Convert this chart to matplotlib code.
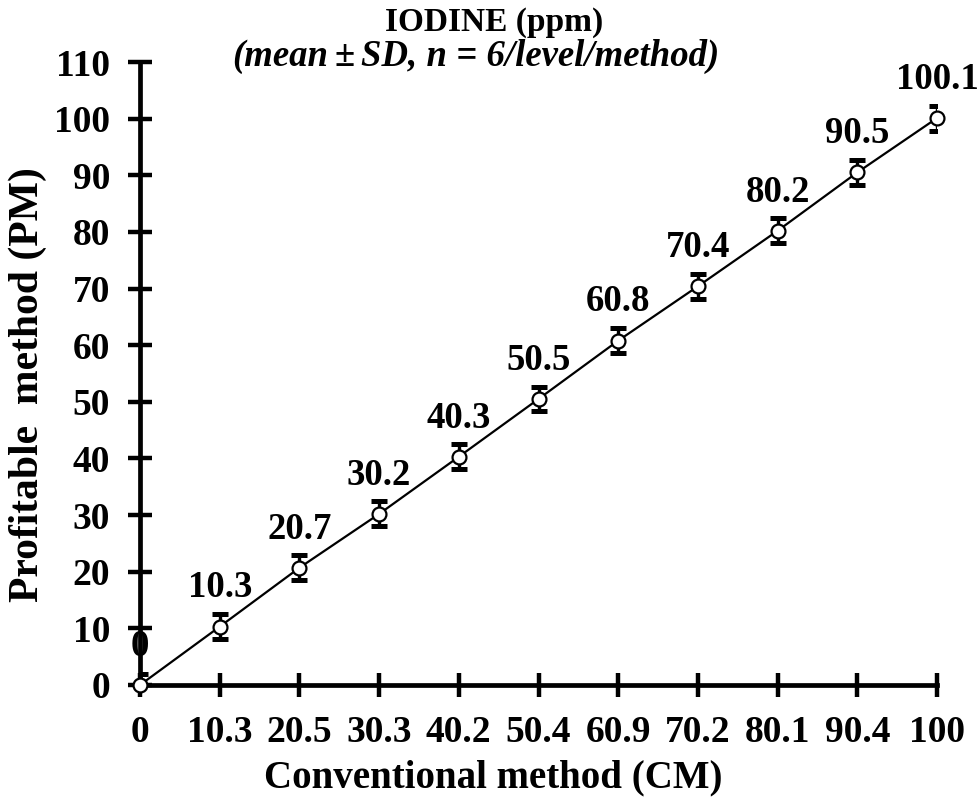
import numpy as np
import matplotlib
matplotlib.use("Agg")
import matplotlib.pyplot as plt

# conventional method levels (x tick labels) and profitable method means
cm_levels = ["0", "10.3", "20.5", "30.3", "40.2", "50.4", "60.9", "70.2", "80.1", "90.4", "100"]
pm_means = [0, 10.3, 20.7, 30.2, 40.3, 50.5, 60.8, 70.4, 80.2, 90.5, 100.1]
pm_sd = [2.0, 2.2, 2.2, 2.2, 2.2, 2.2, 2.2, 2.2, 2.2, 2.2, 2.2]
y_ticks = list(range(0, 111, 10))

plt.rcParams['font.family'] = ['Liberation Serif', 'DejaVu Serif']
plt.rcParams['font.weight'] = 'bold'

fig = plt.figure(figsize=(9.77, 8.02), dpi=100)
ax = fig.add_axes([140 / 977, 1 - 685 / 802, (937 - 140) / 977, (685 - 62) / 802])

x = np.arange(len(cm_levels))
ax.plot(x, pm_means, color='black', lw=1.6, zorder=2)
ax.errorbar(x, pm_means, yerr=pm_sd, fmt='none', ecolor='black',
            elinewidth=2.4, capsize=5.5, capthick=3.6, zorder=3)
ax.plot(x, pm_means, 'o', ms=10, mfc='white', mec='black', mew=1.6,
        clip_on=False, zorder=4)

for xi, v in zip(x, pm_means):
    lbl = "0" if v == 0 else f"{v:.1f}"
    ax.annotate(lbl, (xi, v), xytext=(0, 21), textcoords='offset points',
                ha='center', va='baseline', fontsize=26.5, fontweight='bold',
                annotation_clip=False, zorder=5)

ax.set_xlim(0, len(cm_levels) - 1)
ax.set_ylim(0, 110)
ax.set_xticks(x)
ax.set_xticklabels(cm_levels)
ax.set_yticks(y_ticks)

for side in ('top', 'right'):
    ax.spines[side].set_visible(False)
for side in ('left', 'bottom'):
    ax.spines[side].set_linewidth(3.4)
ax.tick_params(axis='both', direction='inout', length=17, width=3.2,
               labelsize=27, pad=13)
for lab in ax.get_xticklabels() + ax.get_yticklabels():
    lab.set_fontweight('bold')

fig.text(28 / 977, 1 - 385 / 802, "Profitable  method (PM)", rotation=90,
         ha='center', va='center', fontsize=30, fontweight='bold')
fig.text(493 / 977, 1 - 778 / 802, "Conventional method (CM)",
         ha='center', va='center', fontsize=28, fontweight='bold')

# title + subtitle with upright ± in italic line
fig.text(494 / 977, 1 - 31 / 802, "IODINE (ppm)", ha='center', va='baseline',
         fontsize=24, fontweight='bold')
t1 = fig.text(232 / 977, 1 - 66 / 802, "(mean", ha='left', va='baseline',
              fontsize=26.5, fontweight='bold', style='italic')
t2 = ax.annotate("\u00b1", xy=(1, 0), xycoords=t1, xytext=(5, 0),
                 textcoords='offset points', ha='left', va='bottom',
                 fontsize=26.5, fontweight='bold', annotation_clip=False)
ax.annotate("SD, n = 6/level/method)", xy=(1, 0), xycoords=t2, xytext=(4, 0),
            textcoords='offset points', ha='left', va='bottom',
            fontsize=26.5, fontweight='bold', style='italic', annotation_clip=False)

fig.savefig("out.png", dpi=100)
